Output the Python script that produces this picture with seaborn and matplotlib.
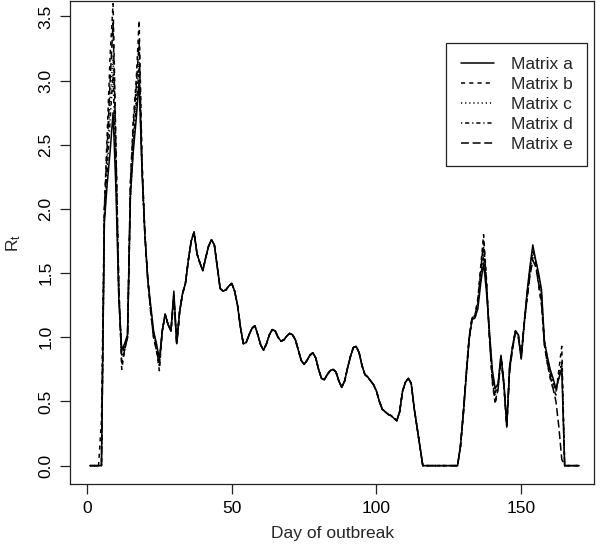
import numpy as np
import pandas as pd
import matplotlib
matplotlib.use('Agg')
import matplotlib.pyplot as plt
from matplotlib.ticker import FormatStrFormatter
import seaborn as sns

# days of the outbreak
days = list(range(1, 171))

# days 33-128: the five matrices give the same estimate here
rt_mid = [1.34, 1.42, 1.6, 1.75, 1.82, 1.65, 1.58, 1.52, 1.62, 1.71,
          1.76, 1.72, 1.55, 1.38, 1.36, 1.37, 1.4, 1.42, 1.36, 1.25,
          1.08, 0.95, 0.96, 1.02, 1.07, 1.09, 1.02, 0.94, 0.9, 0.95,
          1.02, 1.06, 1.05, 1.0, 0.97, 0.98, 1.01, 1.03, 1.02, 0.98,
          0.9, 0.82, 0.79, 0.82, 0.86, 0.88, 0.84, 0.75, 0.68, 0.67,
          0.71, 0.74, 0.75, 0.73, 0.66, 0.61, 0.66, 0.76, 0.85, 0.92,
          0.93, 0.88, 0.78, 0.71, 0.69, 0.66, 0.63, 0.58, 0.5, 0.44,
          0.42, 0.4, 0.39, 0.37, 0.35, 0.42, 0.58, 0.65, 0.68, 0.64,
          0.45, 0.3, 0.15,
          0, 0, 0, 0, 0, 0, 0, 0, 0, 0, 0, 0, 0]

# days 1-32
a_early = [0, 0, 0, 0, 0, 1.9, 2.2, 2.45, 2.75, 2.15, 1.3, 0.9, 0.95, 1.02, 2.1, 2.45,
           2.7, 3.0, 2.3, 1.8, 1.45, 1.25, 1.05, 0.95, 0.83, 1.05, 1.18, 1.1, 1.05, 1.36, 0.95, 1.2]
b_early = [0, 0, 0, 0, 0.35, 2.0, 2.6, 3.2, 3.6, 2.5, 1.4, 0.75, 0.9, 1.0, 2.2, 2.7,
           3.0, 3.47, 2.4, 1.8, 1.45, 1.2, 1.0, 0.9, 0.74, 1.05, 1.18, 1.1, 1.05, 1.3, 0.95, 1.2]
c_early = [0, 0, 0, 0, 0, 1.95, 2.4, 2.85, 3.2, 2.4, 1.35, 0.85, 0.92, 1.0, 2.15, 2.55,
           2.85, 3.15, 2.3, 1.8, 1.45, 1.22, 1.02, 0.93, 0.8, 1.05, 1.18, 1.1, 1.05, 1.33, 0.95, 1.2]
d_early = [0, 0, 0, 0, 0, 1.9, 2.3, 2.7, 3.05, 2.3, 1.3, 0.88, 0.93, 1.0, 2.1, 2.5,
           2.8, 3.1, 2.3, 1.8, 1.45, 1.23, 1.03, 0.94, 0.82, 1.05, 1.18, 1.1, 1.05, 1.34, 0.95, 1.2]
e_early = [0, 0, 0, 0, 0, 2.0, 2.5, 3.0, 3.45, 2.45, 1.38, 0.8, 0.9, 1.0, 2.2, 2.65,
           2.95, 3.3, 2.35, 1.8, 1.45, 1.2, 1.0, 0.9, 0.78, 1.05, 1.18, 1.1, 1.05, 1.3, 0.95, 1.2]

# days 129-170
a_late = [0.15, 0.4, 0.7, 0.98, 1.14, 1.15, 1.22, 1.42, 1.58, 1.35, 1.05, 0.75, 0.6, 0.64,
          0.86, 0.65, 0.3, 0.78, 0.93, 1.05, 1.02, 0.83, 1.1, 1.35, 1.55, 1.72, 1.6, 1.5,
          1.37, 0.97, 0.85, 0.75, 0.68, 0.6, 0.68, 0.76, 0, 0, 0, 0, 0, 0]
b_late = [0.15, 0.42, 0.72, 1.0, 1.15, 1.17, 1.3, 1.55, 1.8, 1.45, 1.0, 0.65, 0.48, 0.6,
          0.85, 0.62, 0.32, 0.75, 0.92, 1.05, 1.0, 0.85, 1.12, 1.3, 1.5, 1.62, 1.58, 1.4,
          1.25, 0.95, 0.8, 0.68, 0.6, 0.55, 0.75, 0.93, 0, 0, 0, 0, 0, 0]
c_late = [0.15, 0.41, 0.71, 0.99, 1.14, 1.16, 1.27, 1.5, 1.7, 1.42, 1.02, 0.7, 0.55, 0.62,
          0.85, 0.63, 0.31, 0.76, 0.92, 1.05, 1.01, 0.84, 1.1, 1.32, 1.52, 1.66, 1.6, 1.45,
          1.3, 0.96, 0.83, 0.72, 0.64, 0.58, 0.7, 0.82, 0, 0, 0, 0, 0, 0]
d_late = [0.15, 0.4, 0.7, 0.98, 1.14, 1.15, 1.25, 1.46, 1.65, 1.4, 1.03, 0.72, 0.57, 0.63,
          0.86, 0.64, 0.3, 0.77, 0.93, 1.05, 1.02, 0.84, 1.1, 1.33, 1.53, 1.68, 1.6, 1.47,
          1.33, 0.97, 0.84, 0.73, 0.65, 0.59, 0.69, 0.8, 0, 0, 0, 0, 0, 0]
e_late = [0.15, 0.42, 0.72, 1.0, 1.15, 1.17, 1.28, 1.52, 1.75, 1.43, 1.0, 0.67, 0.5, 0.6,
          0.84, 0.62, 0.33, 0.74, 0.91, 1.04, 1.0, 0.85, 1.1, 1.3, 1.48, 1.6, 1.55, 1.42,
          1.28, 0.94, 0.8, 0.7, 0.6, 0.5, 0.3, 0.05, 0, 0, 0, 0, 0, 0]

labels = ['Matrix a', 'Matrix b', 'Matrix c', 'Matrix d', 'Matrix e']
series = {
    'Matrix a': a_early + rt_mid + a_late,
    'Matrix b': b_early + rt_mid + b_late,
    'Matrix c': c_early + rt_mid + c_late,
    'Matrix d': d_early + rt_mid + d_late,
    'Matrix e': e_early + rt_mid + e_late,
}

frames = []
for name in labels:
    frames.append(pd.DataFrame({'day': days, 'Rt': series[name], 'matrix': name}))
df = pd.concat(frames, ignore_index=True)

sns.set_style('ticks')
plt.rcParams['font.family'] = ['Liberation Sans', 'DejaVu Sans']
fs = 12.5

fig = plt.figure(figsize=(6, 5.48), dpi=100)
ax = fig.add_axes([0.117, 0.1168, 0.8738, 0.8812])

# R style line types 1..5
dash_styles = {'Matrix a': '', 'Matrix b': (2.7, 2.7), 'Matrix c': (0.8, 1.9),
               'Matrix d': (0.8, 1.9, 2.7, 1.9), 'Matrix e': (5.2, 2.4)}
sns.lineplot(data=df, x='day', y='Rt', style='matrix', style_order=labels,
             dashes=dash_styles, color='black', lw=1.1, ax=ax)

ax.set_xlim(-5.8, 175.3)
ax.set_ylim(-0.143, 3.62)
ax.set_xticks([0, 50, 100, 150])
ax.set_yticks(np.arange(0, 3.6, 0.5))
ax.yaxis.set_major_formatter(FormatStrFormatter('%.1f'))
ax.tick_params(length=7.2, width=0.9, pad=5, colors='#222222', labelcolor='black', labelsize=fs)
ax.tick_params(axis='y', labelrotation=90)
for lab in ax.get_yticklabels():
    lab.set_va('center')
for s in ax.spines.values():
    s.set_linewidth(0.9)
    s.set_color('#222222')

ax.set_xlabel('Day of outbreak', fontsize=fs)
ax.set_ylabel('$\\mathregular{R_t}$', fontsize=fs)
ax.xaxis.set_label_coords(0.5, -0.088)
ax.yaxis.set_label_coords(-0.09, 0.5)

# rebuild the legend as an R style box
old = ax.get_legend()
handles = list(old.legend_handles)
texts = [t.get_text() for t in old.get_texts()]
old.remove()
for h in handles:
    h.set_color('black')
    h.set_linewidth(1.1)
leg = ax.legend(handles, texts, loc='upper right', bbox_to_anchor=(0.978, 0.922),
                bbox_transform=fig.transFigure, fontsize=fs, frameon=True,
                fancybox=False, framealpha=1, edgecolor='#222222', borderpad=0.83,
                handlelength=1.9, handletextpad=0.98, labelspacing=0.27, borderaxespad=0)
leg.get_frame().set_linewidth(0.9)

fig.savefig('out.png', dpi=100)
